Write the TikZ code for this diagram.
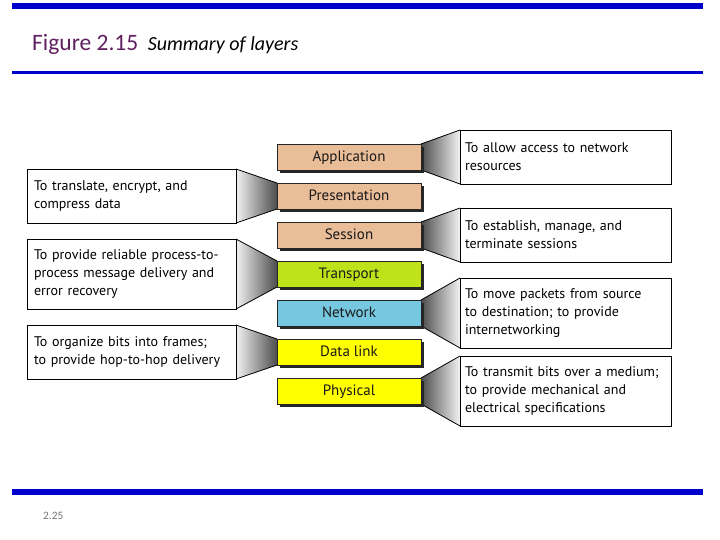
\documentclass[tikz,border=0pt]{standalone}
\usepackage{fontspec}
\setmainfont{PT Sans}
\newfontfamily\slidefont{Carlito}
\usepackage{tikz}
\usetikzlibrary{positioning, shadows, backgrounds}
\definecolor{slidebar}{RGB}{0,0,204}
\definecolor{figpurple}{RGB}{96,32,96}
\definecolor{upper}{RGB}{233,189,152}
\definecolor{transp}{RGB}{191,226,26}
\definecolor{netw}{RGB}{118,199,224}
\definecolor{lower}{RGB}{255,255,0}
\tikzset{
  lyr/.style   = {draw=black!85, line width=0.8pt, minimum width=144pt,
                  minimum height=26pt, inner sep=0pt, outer sep=0pt,
                  text height=10.5pt, text depth=1.5pt,
                  text=black!90, font=\fontsize{15}{17}\selectfont,
                  drop shadow={shadow xshift=3pt, shadow yshift=-3pt,
                               opacity=1, fill=black!85}},
  note/.style  = {draw, line width=0.8pt, fill=white, align=left,
                  text width=201pt, inner xsep=5pt, outer sep=0pt,
                  minimum height=54pt, font=\fontsize{14}{18}\selectfont},
  lnote/.style = {note, text width=195pt, inner xsep=7pt},
  tall/.style  = {minimum height=70pt},
  lwedge/.style = {left color=black!5, right color=black!70},
  rwedge/.style = {left color=black!70, right color=black!5},
  rim/.style   = {line width=0.8pt},
}

\begin{document}
\begin{tikzpicture}[x=1pt, y=-1pt]
  \useasboundingbox (0,0) rectangle (720,540);

  % slide frame
  \fill[slidebar] (12,3) rectangle (703,9);
  \fill[slidebar] (12,71) rectangle (703,74);
  \fill[slidebar] (12,489) rectangle (703,495);
  \node[anchor=base west, inner sep=0pt, text=figpurple,
        font=\slidefont\fontsize{23.5}{24}\selectfont] (fig) at (32,51) {Figure 2.15};
  \node[anchor=base west, inner sep=0pt,
        font=\slidefont\itshape\fontsize{20}{21}\selectfont]
        (title) at ([xshift=9pt]fig.base east) {Summary of layers};
  \node[anchor=base west, inner sep=0pt, text=black!55,
        font=\slidefont\fontsize{11.3}{12}\selectfont] (page) at (43,519) {2.25};

  % the seven layers
  \node[lyr, fill=upper] (app) at (349,157) {Application};
  \node[lyr, fill=upper, below=13pt of app]  (pres) {Presentation};
  \node[lyr, fill=upper, below=13pt of pres] (sess) {Session};
  \node[lyr, fill=transp, below=13pt of sess] (trans) {Transport};
  \node[lyr, fill=netw, below=13pt of trans] (net) {Network};
  \node[lyr, fill=lower, below=13pt of net]  (dlink) {Data link};
  \node[lyr, fill=lower, below=13pt of dlink] (phys) {Physical};

  % duties, right side
  \node[note, right=39pt of app] (appnote) {To allow access to network\\resources};
  \node[note, right=39pt of sess] (sessnote) {To establish, manage, and\\terminate sessions};
  \node[note, tall, right=39pt of net] (netnote)
    {To move packets from source\\to destination; to provide\\internetworking};
  \node[note, tall, right=39pt of phys] (physnote)
    {To transmit bits over a medium;\\to provide mechanical and\\electrical specifications};

  % duties, left side
  \node[lnote, left=41pt of pres] (presnote) {To translate, encrypt, and\\compress data};
  \node[lnote, tall, left=41pt of trans] (transnote)
    {To provide reliable process-to-\\process message delivery and\\error recovery};
  \node[lnote, left=41pt of dlink] (dlinknote)
    {To organize bits into frames;\\to provide hop-to-hop delivery};

  \begin{scope}[on background layer]
    \foreach \l in {app, sess, net, phys} {
      \shade[rwedge] (\l.north east) -- (\l note.north west)
        -- (\l note.south west) -- (\l.south east) -- cycle;
      \draw[rim] (\l.north east) -- (\l note.north west)
        (\l.south east) -- (\l note.south west);
    }
    \foreach \l in {pres, trans, dlink} {
      \shade[lwedge] (\l note.north east) -- (\l.north west)
        -- (\l.south west) -- (\l note.south east) -- cycle;
      \draw[rim] (\l note.north east) -- (\l.north west)
        (\l note.south east) -- (\l.south west);
    }
  \end{scope}
\end{tikzpicture}
\end{document}
